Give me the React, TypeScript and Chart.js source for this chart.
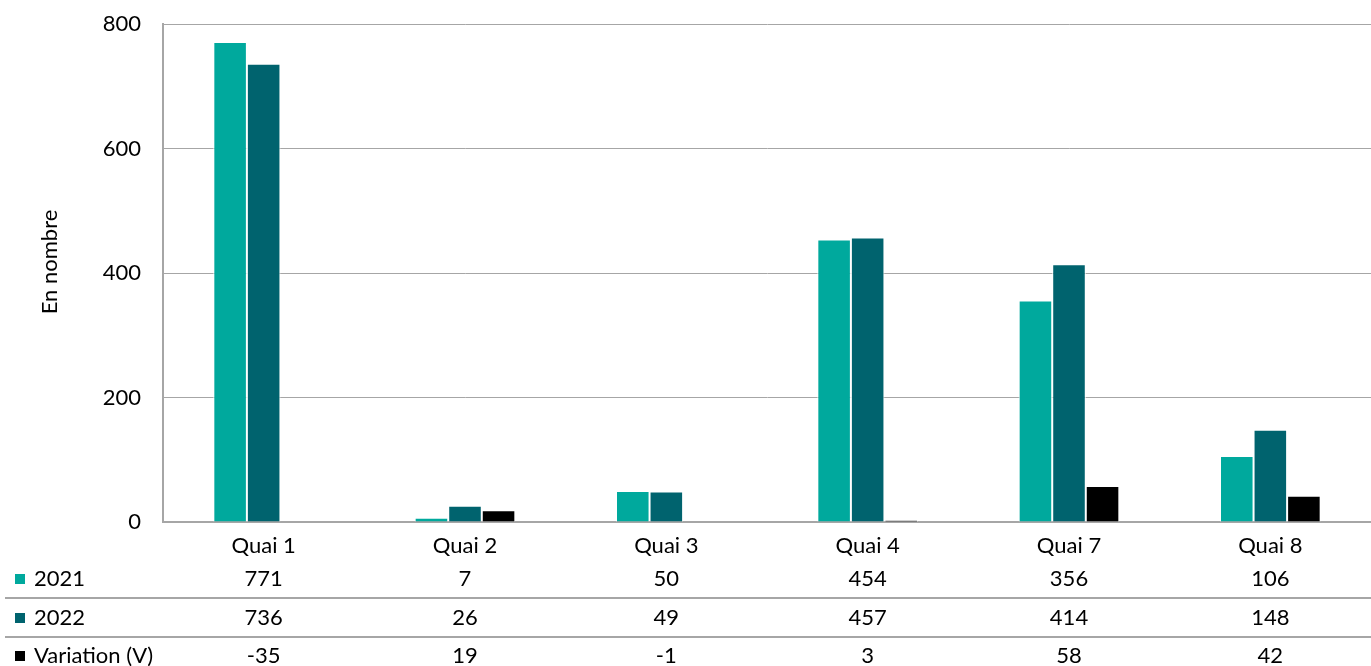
import React, { useEffect, useRef } from "react";
import { Chart, registerables } from "chart.js";

Chart.register(...registerables);

const categories = ["Quai 1", "Quai 2", "Quai 3", "Quai 4", "Quai 7", "Quai 8"];
const values2021 = [771, 7, 50, 454, 356, 106];
const values2022 = [736, 26, 49, 457, 414, 148];
const variation = [-35, 19, -1, 3, 58, 42];
const seriesLabels = ["2021", "2022", "Variation (V)"];
const seriesColors = ["#00A99D", "#00636E", "#000000"];
const yTicks = [0, 200, 400, 600, 800];
const yTitle = "En nombre";

const FONT = "Lato, 'Open Sans', sans-serif";
const FS = 22;
const GRID = "#A6A6A6";

const tablePlugin = {
  id: "dataTable",
  afterDraw(chart: any) {
    const ctx = chart.ctx;
    const x = chart.scales.x;
    const rows = [values2021, values2022, variation];
    const rowY = [579, 618, 656];
    const sepY = [598, 637];
    ctx.save();
    ctx.strokeStyle = GRID;
    ctx.lineWidth = 2;
    sepY.forEach((yy) => {
      ctx.beginPath();
      ctx.moveTo(5, yy);
      ctx.lineTo(chart.width, yy);
      ctx.stroke();
    });
    ctx.font = `${FS}px ${FONT}`;
    ctx.textBaseline = "middle";
    rows.forEach((row, r) => {
      const yy = rowY[r];
      ctx.fillStyle = seriesColors[r];
      ctx.fillRect(15, yy - 5, 10, 10);
      ctx.fillStyle = "#000";
      ctx.textAlign = "left";
      ctx.fillText(seriesLabels[r], 34, yy);
      ctx.textAlign = "center";
      row.forEach((v, i) => {
        ctx.fillText(String(v), x.getPixelForValue(i), yy);
      });
    });
    // y axis title
    ctx.translate(50, 262);
    ctx.rotate(-Math.PI / 2);
    ctx.textAlign = "center";
    ctx.fillStyle = "#000";
    ctx.fillText(yTitle, 0, 0);
    ctx.restore();
  },
};

export default function App() {
  const ref = useRef<HTMLCanvasElement>(null);
  useEffect(() => {
    if (!ref.current) return;
    const chart = new Chart(ref.current, {
      type: "bar",
      data: {
        labels: categories,
        datasets: [values2021, values2022, variation].map((d, i) => ({
          label: seriesLabels[i],
          data: d,
          backgroundColor: seriesColors[i],
          borderColor: "#FFFFFF",
          borderWidth: 1,
          categoryPercentage: 0.5,
          barPercentage: 1,
        })),
      },
      options: {
        animation: false,
        responsive: true,
        maintainAspectRatio: false,
        layout: { padding: { top: 24, left: 0, right: 0, bottom: 0 } },
        plugins: {
          legend: { display: false },
          tooltip: { enabled: false },
        },
        scales: {
          x: {
            grid: { display: false, drawTicks: false },
            border: { color: GRID, width: 2 },
            ticks: { color: "#000", font: { family: FONT, size: FS }, padding: 11 },
            afterFit: (s: any) => {
              s.height = 144;
            },
          },
          y: {
            min: 0,
            max: 800,
            afterBuildTicks: (s: any) => {
              s.ticks = yTicks.map((v) => ({ value: v }));
            },
            grid: { color: GRID, lineWidth: 1, drawTicks: false },
            border: { color: GRID, width: 2 },
            ticks: { color: "#000", font: { family: FONT, size: FS }, padding: 22 },
            afterFit: (s: any) => {
              s.width = 163;
              s.paddingTop = 0;
              s.paddingBottom = 0;
            },
          },
        },
      },
      plugins: [tablePlugin],
    });
    return () => chart.destroy();
  }, []);
  return (
    <div style={{ position: "fixed", left: 0, top: 0, width: 1371, height: 666, background: "#fff" }}>
      <canvas ref={ref} />
    </div>
  );
}
